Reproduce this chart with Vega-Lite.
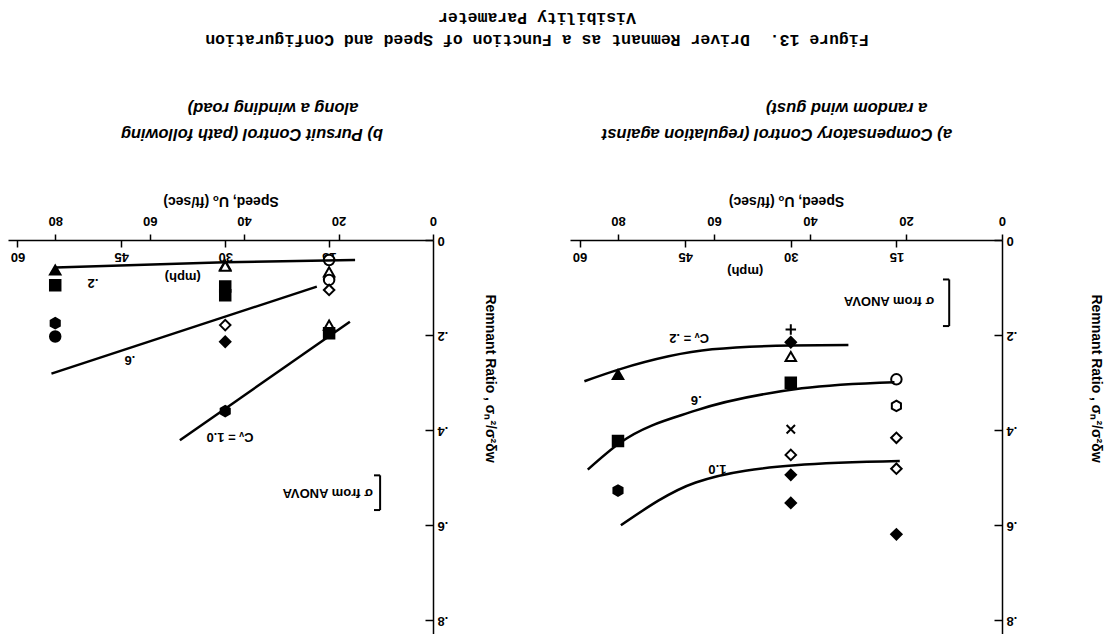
{
  "$schema": "https://vega.github.io/schema/vega-lite/v6.json",
  "background": "white",
  "padding": {"left": 8, "top": 8, "right": 5, "bottom": 0},
  "title": {
    "text": ["Figure 13.\u00a0 Driver Remnant as a Function of Speed and Configuration", "Visibility Parameter"],
    "angle": 180, "baseline": "top", "anchor": "middle", "frame": "bounds", "dx": 18,
    "font": "Liberation Mono", "fontSize": 16.5, "fontWeight": "bold", "color": "black",
    "offset": 13, "lineHeight": 22
  },
  "datasets": {
    "a_pts": [
      {"speed": 22, "ratio": 0.293, "case": "c1"},
      {"speed": 22, "ratio": 0.349, "case": "c2"},
      {"speed": 22, "ratio": 0.416, "case": "c3"},
      {"speed": 22, "ratio": 0.481, "case": "c3"},
      {"speed": 22, "ratio": 0.619, "case": "c4"},
      {"speed": 44, "ratio": 0.188, "case": "c5"},
      {"speed": 44, "ratio": 0.215, "case": "c4"},
      {"speed": 44, "ratio": 0.245, "case": "c6"},
      {"speed": 44, "ratio": 0.300, "case": "c7"},
      {"speed": 44, "ratio": 0.398, "case": "c8"},
      {"speed": 44, "ratio": 0.452, "case": "c3"},
      {"speed": 44, "ratio": 0.494, "case": "c4"},
      {"speed": 44, "ratio": 0.553, "case": "c4"},
      {"speed": 80, "ratio": 0.283, "case": "c9"},
      {"speed": 80, "ratio": 0.423, "case": "c7"},
      {"speed": 80, "ratio": 0.527, "case": "c10"}
    ],
    "b_pts": [
      {"speed": 22, "ratio": 0.042, "case": "c1"},
      {"speed": 22, "ratio": 0.067, "case": "c6"},
      {"speed": 22, "ratio": 0.084, "case": "c1"},
      {"speed": 22, "ratio": 0.105, "case": "c3"},
      {"speed": 22, "ratio": 0.179, "case": "c6"},
      {"speed": 22, "ratio": 0.196, "case": "c7"},
      {"speed": 44, "ratio": 0.053, "case": "c9"},
      {"speed": 44, "ratio": 0.055, "case": "c6"},
      {"speed": 44, "ratio": 0.098, "case": "c7"},
      {"speed": 44, "ratio": 0.116, "case": "c7"},
      {"speed": 44, "ratio": 0.179, "case": "c3"},
      {"speed": 44, "ratio": 0.214, "case": "c4"},
      {"speed": 44, "ratio": 0.360, "case": "c10"},
      {"speed": 80, "ratio": 0.063, "case": "c9"},
      {"speed": 80, "ratio": 0.095, "case": "c7"},
      {"speed": 80, "ratio": 0.175, "case": "c10"},
      {"speed": 80, "ratio": 0.203, "case": "c11"}
    ],
    "a_curves": [
      {"curve": ".2", "speed": 32, "ratio": 0.221},
      {"curve": ".2", "speed": 44, "ratio": 0.222},
      {"curve": ".2", "speed": 60.4, "ratio": 0.230},
      {"curve": ".2", "speed": 79.7, "ratio": 0.272},
      {"curve": ".2", "speed": 87, "ratio": 0.297},
      {"curve": ".6", "speed": 22.4, "ratio": 0.299},
      {"curve": ".6", "speed": 41.7, "ratio": 0.312},
      {"curve": ".6", "speed": 63.9, "ratio": 0.359},
      {"curve": ".6", "speed": 79.5, "ratio": 0.426},
      {"curve": ".6", "speed": 86.3, "ratio": 0.483},
      {"curve": "1.0", "speed": 21.3, "ratio": 0.465},
      {"curve": "1.0", "speed": 43.1, "ratio": 0.474},
      {"curve": "1.0", "speed": 63.8, "ratio": 0.510},
      {"curve": "1.0", "speed": 79.4, "ratio": 0.600}
    ],
    "b_curves": [
      {"curve": ".2", "speed": 16.5, "ratio": 0.042},
      {"curve": ".2", "speed": 44, "ratio": 0.047},
      {"curve": ".2", "speed": 80, "ratio": 0.058},
      {"curve": ".6", "speed": 24.6, "ratio": 0.098},
      {"curve": ".6", "speed": 80.8, "ratio": 0.281},
      {"curve": "1.0", "speed": 17.6, "ratio": 0.172},
      {"curve": "1.0", "speed": 53.6, "ratio": 0.421}
    ],
    "a_labels": [
      {"speed": 65.2, "ratio": 0.206, "label": "Cᵥ = .2"},
      {"speed": 63.7, "ratio": 0.336, "label": ".6"},
      {"speed": 59.3, "ratio": 0.481, "label": "1.0"},
      {"speed": 53.5, "ratio": 0.065, "label": "(mph)"}
    ],
    "b_labels": [
      {"speed": 72, "ratio": 0.091, "label": ".2"},
      {"speed": 64.2, "ratio": 0.253, "label": ".6"},
      {"speed": 43, "ratio": 0.414, "label": "Cᵥ = 1.0"},
      {"speed": 53, "ratio": 0.077, "label": "(mph)"}
    ],
    "a_anova": [{"speed": 14.1, "ratio": 0.128, "label": "σ from ANOVA"}],
    "b_anova": [{"speed": 12.7, "ratio": 0.533, "label": "σ from ANOVA"}],
    "a_bracket": [
      {"speed": 11, "speed2": 11, "ratio": 0.083, "ratio2": 0.181},
      {"speed": 11, "speed2": 12.3, "ratio": 0.083, "ratio2": 0.083},
      {"speed": 11, "speed2": 12.3, "ratio": 0.181, "ratio2": 0.181}
    ],
    "b_bracket": [
      {"speed": 11.2, "speed2": 11.2, "ratio": 0.495, "ratio2": 0.568},
      {"speed": 11.2, "speed2": 12.5, "ratio": 0.495, "ratio2": 0.495},
      {"speed": 11.2, "speed2": 12.5, "ratio": 0.568, "ratio2": 0.568}
    ]
  },
  "spacing": 137,
  "bounds": "flush",
  "hconcat": [
    {
      "width": 425, "height": 397,
      "title": {
        "text": ["b) Pursuit Control (path following", "\u200b\u2003\u2002along a winding road)"],
        "angle": 180, "baseline": "top", "align": "left", "anchor": "end", "frame": "group", "dx": 50,
        "font": "Liberation Sans", "fontStyle": "italic", "fontWeight": "bold", "fontSize": 16.5,
        "color": "black", "offset": 9, "lineHeight": 26
      },
      "resolve": {"axis": {"x": "independent", "y": "independent"}},
      "layer": [
        {
          "data": {"name": "b_pts"},
          "mark": {"type": "point", "size": 110, "strokeWidth": 2, "stroke": "black", "opacity": 1},
          "encoding": {
            "x": {"field": "speed", "type": "quantitative", "scale": {"domain": [0, 90], "reverse": true, "nice": false},
              "axis": {"orient": "top", "values": [0, 20, 40, 60, 80], "labelAngle": 180, "labelFlush": false, "tickSize": 6, "labelPadding": 8, "title": "Speed, Uₒ (ft/sec)", "titleAngle": 180, "titleBaseline": "top", "titlePadding": 6}},
            "y": {"field": "ratio", "type": "quantitative", "scale": {"domain": [0, 0.835], "reverse": true, "nice": false},
              "axis": {"orient": "right", "values": [0, 0.2, 0.4, 0.6, 0.8], "labelExpr": "datum.value == 0 ? '0' : replace(format(datum.value, '.1f'), '0.', '.')", "labelAngle": 180, "labelFlush": false, "tickSize": -8, "labelPadding": 12, "title": "Remnant Ratio ,  σₙ²/σ²δw", "titleAngle": 90, "titleBaseline": "middle", "titleAlign": "center", "titleX": 56, "titleY": 138}},
            "shape": {"field": "case", "type": "nominal", "legend": null,
              "scale": {"domain": ["c1","c2","c3","c4","c5","c6","c7","c8","c9","c10","c11"],
                "range": ["circle", "M0,-1L0.87,-0.5L0.87,0.5L0,1L-0.87,0.5L-0.87,-0.5Z", "diamond", "diamond", "M-1,0L1,0M0,-1L0,1", "triangle-up", "square", "M-0.8,-0.8L0.8,0.8M-0.8,0.8L0.8,-0.8", "triangle-up", "M0,-1L0.87,-0.5L0.87,0.5L0,1L-0.87,0.5L-0.87,-0.5Z", "circle"]}},
            "fill": {"field": "case", "type": "nominal", "legend": null,
              "scale": {"domain": ["c1","c2","c3","c4","c5","c6","c7","c8","c9","c10","c11"],
                "range": ["white", "white", "white", "black", "white", "white", "black", "white", "black", "black", "black"]}}
          }
        },
        {
          "data": {"name": "b_curves"},
          "mark": {"type": "line", "interpolate": "monotone", "color": "black", "strokeWidth": 2.5},
          "encoding": {
            "x": {"field": "speed", "type": "quantitative", "axis": null},
            "y": {"field": "ratio", "type": "quantitative", "axis": null},
            "detail": {"field": "curve", "type": "nominal"}
          }
        },
        {
          "data": {"name": "b_labels"},
          "mark": {"type": "text", "angle": 180, "font": "Liberation Sans", "fontSize": 13, "fontWeight": "bold", "color": "black"},
          "encoding": {
            "x": {"field": "speed", "type": "quantitative",
              "axis": {"orient": "bottom", "offset": -397, "values": [22, 44, 66, 88], "labelExpr": "datum.value == 22 ? '15' : datum.value == 44 ? '30' : datum.value == 66 ? '45' : '60'", "labelAngle": 180, "labelFlush": false, "tickSize": 7, "labelPadding": 2, "domain": false, "title": null}},
            "y": {"field": "ratio", "type": "quantitative", "axis": null},
            "text": {"field": "label"}
          }
        },
        {
          "data": {"name": "b_anova"},
          "mark": {"type": "text", "angle": 180, "align": "left", "font": "Liberation Sans", "fontSize": 13, "fontWeight": "bold", "color": "black"},
          "encoding": {
            "x": {"field": "speed", "type": "quantitative", "axis": null},
            "y": {"field": "ratio", "type": "quantitative", "axis": null},
            "text": {"field": "label"}
          }
        },
        {
          "data": {"name": "b_bracket"},
          "mark": {"type": "rule", "color": "black", "strokeWidth": 2},
          "encoding": {
            "x": {"field": "speed", "type": "quantitative", "axis": null},
            "x2": {"field": "speed2"},
            "y": {"field": "ratio", "type": "quantitative", "axis": null},
            "y2": {"field": "ratio2"}
          }
        }
      ]
    },
    {
      "width": 432, "height": 397,
      "title": {
        "text": ["a) Compensatory Control (regulation against", "\u200b\u2003\u2002a random wind gust)"],
        "angle": 180, "baseline": "top", "align": "left", "anchor": "end", "frame": "group", "dx": 50,
        "font": "Liberation Sans", "fontStyle": "italic", "fontWeight": "bold", "fontSize": 16.5,
        "color": "black", "offset": 9, "lineHeight": 26
      },
      "resolve": {"axis": {"x": "independent", "y": "independent"}},
      "layer": [
        {
          "data": {"name": "a_pts"},
          "mark": {"type": "point", "size": 110, "strokeWidth": 2, "stroke": "black", "opacity": 1},
          "encoding": {
            "x": {"field": "speed", "type": "quantitative", "scale": {"domain": [0, 90], "reverse": true, "nice": false},
              "axis": {"orient": "top", "values": [0, 20, 40, 60, 80], "labelAngle": 180, "labelFlush": false, "tickSize": 6, "labelPadding": 8, "title": "Speed, Uₒ (ft/sec)", "titleAngle": 180, "titleBaseline": "top", "titlePadding": 6}},
            "y": {"field": "ratio", "type": "quantitative", "scale": {"domain": [0, 0.835], "reverse": true, "nice": false},
              "axis": {"orient": "right", "values": [0, 0.2, 0.4, 0.6, 0.8], "labelExpr": "datum.value == 0 ? '0' : replace(format(datum.value, '.1f'), '0.', '.')", "labelAngle": 180, "labelFlush": false, "tickSize": -8, "labelPadding": 12, "title": "Remnant Ratio ,  σₙ²/σ²δw", "titleAngle": 90, "titleBaseline": "middle", "titleAlign": "center", "titleX": 93, "titleY": 138}},
            "shape": {"field": "case", "type": "nominal", "legend": null,
              "scale": {"domain": ["c1","c2","c3","c4","c5","c6","c7","c8","c9","c10","c11"],
                "range": ["circle", "M0,-1L0.87,-0.5L0.87,0.5L0,1L-0.87,0.5L-0.87,-0.5Z", "diamond", "diamond", "M-1,0L1,0M0,-1L0,1", "triangle-up", "square", "M-0.8,-0.8L0.8,0.8M-0.8,0.8L0.8,-0.8", "triangle-up", "M0,-1L0.87,-0.5L0.87,0.5L0,1L-0.87,0.5L-0.87,-0.5Z", "circle"]}},
            "fill": {"field": "case", "type": "nominal", "legend": null,
              "scale": {"domain": ["c1","c2","c3","c4","c5","c6","c7","c8","c9","c10","c11"],
                "range": ["white", "white", "white", "black", "white", "white", "black", "white", "black", "black", "black"]}}
          }
        },
        {
          "data": {"name": "a_curves"},
          "mark": {"type": "line", "interpolate": "monotone", "color": "black", "strokeWidth": 2.5},
          "encoding": {
            "x": {"field": "speed", "type": "quantitative", "axis": null},
            "y": {"field": "ratio", "type": "quantitative", "axis": null},
            "detail": {"field": "curve", "type": "nominal"}
          }
        },
        {
          "data": {"name": "a_labels"},
          "mark": {"type": "text", "angle": 180, "font": "Liberation Sans", "fontSize": 13, "fontWeight": "bold", "color": "black"},
          "encoding": {
            "x": {"field": "speed", "type": "quantitative",
              "axis": {"orient": "bottom", "offset": -397, "values": [22, 44, 66, 88], "labelExpr": "datum.value == 22 ? '15' : datum.value == 44 ? '30' : datum.value == 66 ? '45' : '60'", "labelAngle": 180, "labelFlush": false, "tickSize": 7, "labelPadding": 2, "domain": false, "title": null}},
            "y": {"field": "ratio", "type": "quantitative", "axis": null},
            "text": {"field": "label"}
          }
        },
        {
          "data": {"name": "a_anova"},
          "mark": {"type": "text", "angle": 180, "align": "left", "font": "Liberation Sans", "fontSize": 13, "fontWeight": "bold", "color": "black"},
          "encoding": {
            "x": {"field": "speed", "type": "quantitative", "axis": null},
            "y": {"field": "ratio", "type": "quantitative", "axis": null},
            "text": {"field": "label"}
          }
        },
        {
          "data": {"name": "a_bracket"},
          "mark": {"type": "rule", "color": "black", "strokeWidth": 2},
          "encoding": {
            "x": {"field": "speed", "type": "quantitative", "axis": null},
            "x2": {"field": "speed2"},
            "y": {"field": "ratio", "type": "quantitative", "axis": null},
            "y2": {"field": "ratio2"}
          }
        }
      ]
    }
  ],
  "config": {
    "view": {"stroke": null},
    "axis": {
      "grid": false, "domainColor": "black", "tickColor": "black", "domainWidth": 1.5, "tickWidth": 1.5,
      "labelColor": "black", "titleColor": "black", "labelFont": "Liberation Sans", "titleFont": "Liberation Sans",
      "labelFontSize": 13, "labelFontWeight": "bold", "titleFontSize": 14, "titleFontWeight": "bold"
    }
  }
}
